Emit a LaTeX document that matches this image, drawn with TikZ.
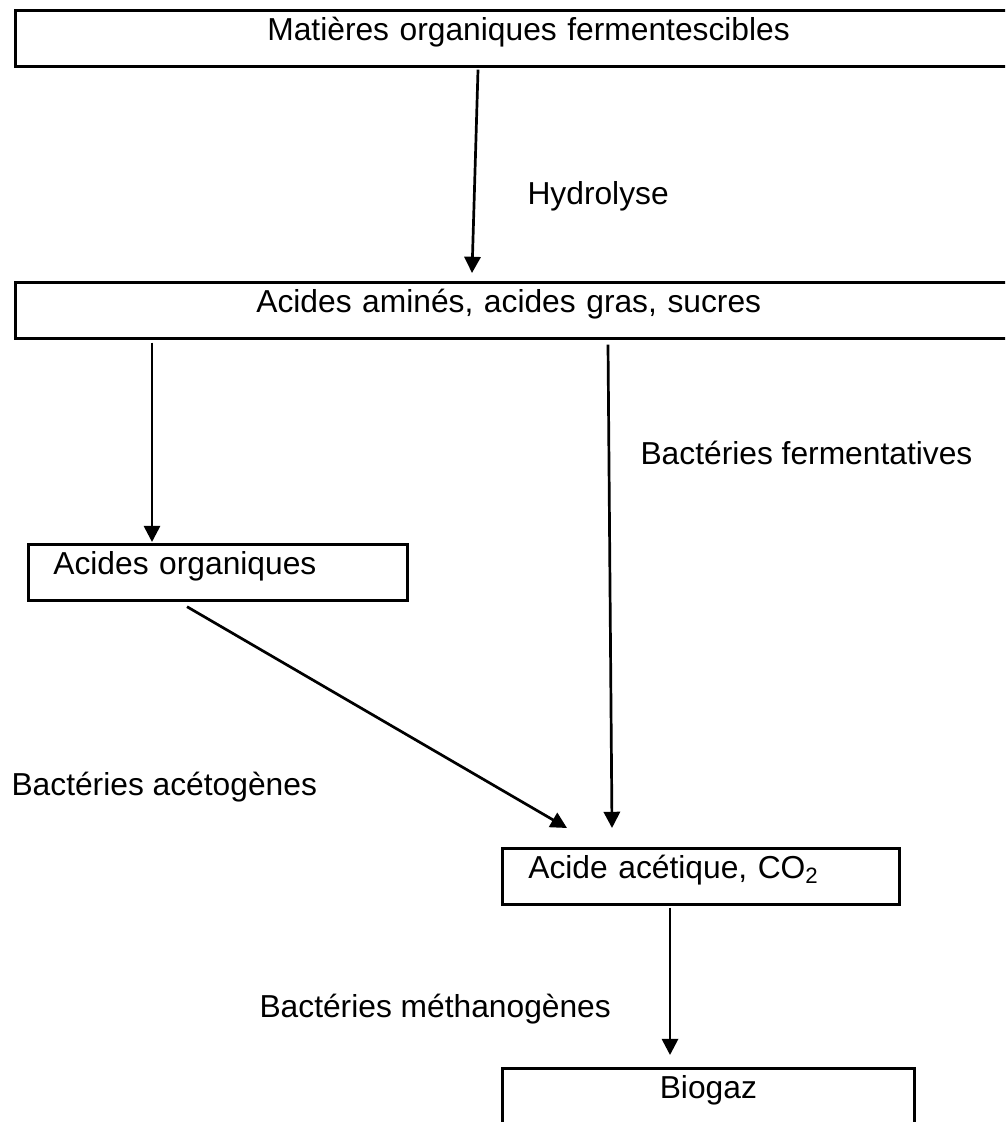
\documentclass[tikz,border=0pt]{standalone}
\usepackage{fontspec}
\setmainfont{Liberation Sans}
\usetikzlibrary{arrows.meta}
\newlength\px
\setlength\px{0.37pt}
\tikzset{
  font={\fontsize{11.75pt}{14pt}\selectfont},
  box/.style={draw, line width=1pt, anchor=north west, inner ysep=0pt,
    minimum height=56\px, text height=30.6\px, text depth=25.4\px},
  arr/.style={line width=1pt, -{Triangle[length=6pt,width=6pt]}},
  lbl/.style={anchor=base west, inner sep=0pt}}

\begin{document}
\begin{tikzpicture}[x=\px,y=-\px]
\useasboundingbox (0,0) rectangle (1005,1122);
\clip (0,0) rectangle (1005,1122);
\node[box, minimum width=1100\px, inner xsep=252\px, text width=596\px, align=left] (mof) at (14,9) {Matières organiques fermentescibles};
\node[box, minimum width=1100\px, inner xsep=241\px, text width=618\px, align=left] (aag) at (14,281) {Acides aminés, acides gras, sucres};
\node[box, minimum width=379\px, inner xsep=25\px, text width=329\px, align=left] (aor) at (27,543) {Acides organiques};
\node[box, minimum width=397\px, inner xsep=26\px, text width=345\px, align=left] (aac) at (501,847) {Acide acétique, CO\textsubscript{2}};
\node[box, minimum width=412\px, inner xsep=0pt, text width=412\px, align=center] (bio) at (501,1067) {Biogaz};
\draw[arr] ([shift={(464,2)}]mof.south west) -- ([shift={(458,-8)}]aag.north west);
\draw[arr] ([shift={(138,3)}]aag.south west) -- ([shift={(125,-1)}]aor.north west);
\draw[arr] ([shift={(594,5)}]aag.south west) -- ([shift={(111,-19)}]aac.north west);
\draw[arr] ([shift={(160,5)}]aor.south west) -- ([shift={(66,-19)}]aac.north west);
\draw[arr] ([shift={(169,2)}]aac.south west) -- ([shift={(169,-12)}]bio.north west);
\node[lbl] (hyd) at (527,205) {Hydrolyse};
\node[lbl] (bfe) at (640,464) {Bactéries fermentatives};
\node[lbl] (bac) at (11,795) {Bactéries acétogènes};
\node[lbl] (bme) at (259,1017) {Bactéries méthanogènes};
\end{tikzpicture}
\end{document}
